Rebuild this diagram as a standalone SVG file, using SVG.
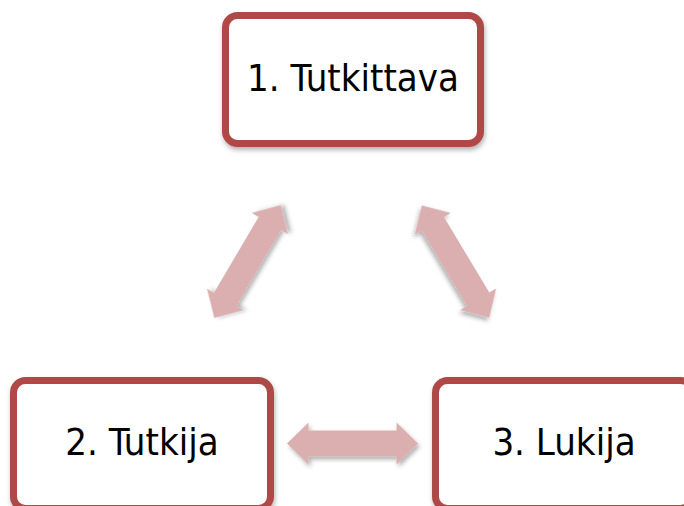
<svg xmlns="http://www.w3.org/2000/svg" width="684" height="506" viewBox="0 0 684 506">
<defs>
<style>
.box{fill:#ffffff;stroke:#AF4A47;stroke-width:7;filter:url(#bshadow)}
.lbl{font-family:"DejaVu Sans Condensed","DejaVu Sans",sans-serif;font-size:38px;fill:#000000;text-anchor:middle}
.arr{fill:#DBAFB0;filter:url(#ashadow)}
</style>
<filter id="bshadow" x="-10%" y="-10%" width="120%" height="130%">
<feDropShadow dx="1" dy="3" stdDeviation="2.5" flood-color="#000" flood-opacity="0.3"/>
</filter>
<filter id="ashadow" x="-20%" y="-40%" width="140%" height="180%">
<feDropShadow dx="2" dy="3" stdDeviation="2" flood-color="#000" flood-opacity="0.3"/>
</filter>
<path id="dbl" d="M-65.5,0 L-44,-21 L-44,-13 L44,-13 L44,-21 L65.5,0 L44,21 L44,13 L-44,13 L-44,21 Z"/>
</defs>
<rect width="684" height="506" fill="#ffffff"/>
<g id="connectors">
<use href="#dbl" class="arr" transform="translate(247.5,261.5) rotate(-59.5)"/>
<use href="#dbl" class="arr" transform="translate(455.5,261.5) rotate(59)"/>
<use href="#dbl" class="arr" transform="translate(352.5,443.5)"/>
</g>
<g id="node1">
<rect class="box" x="225.5" y="15.5" width="255" height="128" rx="12"/>
<text class="lbl" x="353" y="90.5">1. Tutkittava</text>
</g>
<g id="node2">
<rect class="box" x="13.5" y="380.5" width="257" height="128" rx="12"/>
<text class="lbl" x="142" y="455">2. Tutkija</text>
</g>
<g id="node3">
<rect class="box" x="435.5" y="380.5" width="257" height="128" rx="12"/>
<text class="lbl" x="564" y="455">3. Lukija</text>
</g>
</svg>
